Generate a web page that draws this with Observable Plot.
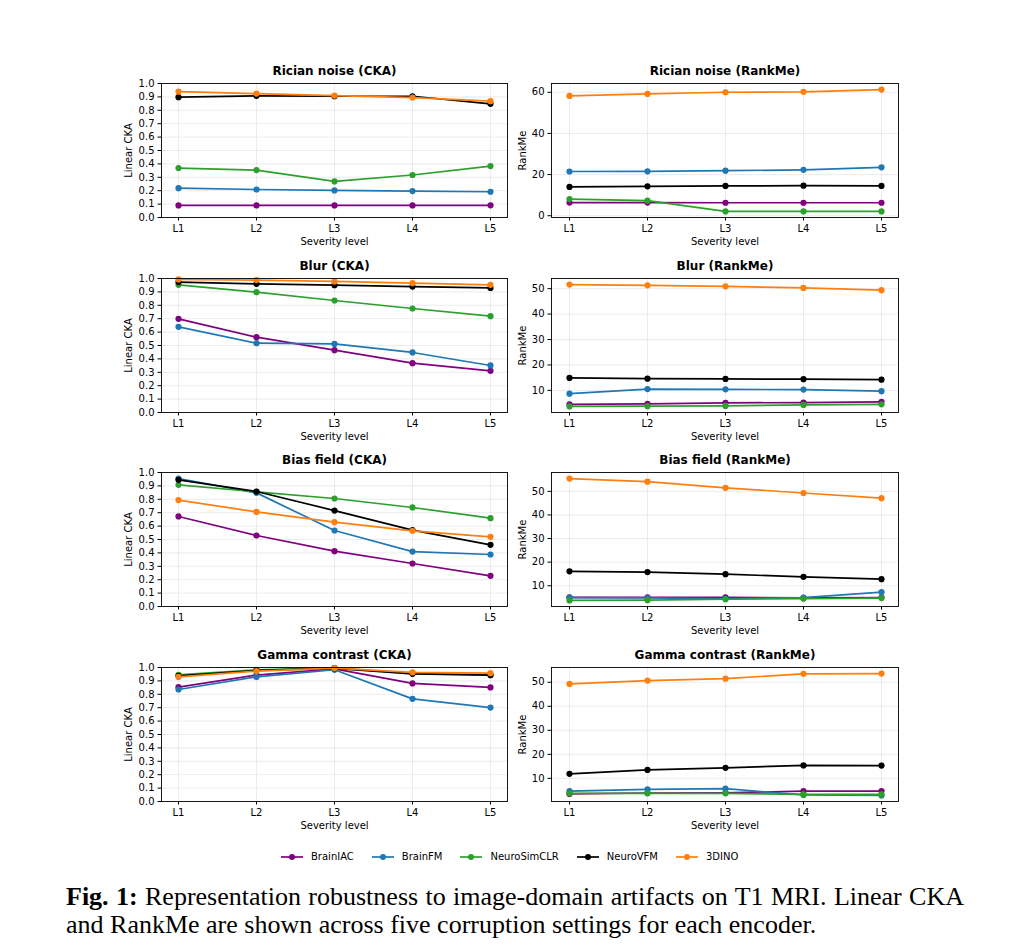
<!DOCTYPE html>
<html><head><meta charset="utf-8">
<script src="https://cdn.jsdelivr.net/npm/d3@7"></script>
<script src="https://cdn.jsdelivr.net/npm/@observablehq/plot@0.6"></script>
<style>
body{margin:0;background:#fff;}
#root{position:relative;width:1030px;height:951px;font-family:"DejaVu Sans",sans-serif;background:#fff;}
.panel{position:absolute;}
.panel svg{overflow:visible;background:transparent;max-width:none;font-family:"DejaVu Sans",sans-serif;}
#legend{position:absolute;left:281px;top:851px;display:flex;align-items:center;font-size:10px;color:#000;white-space:nowrap;}
#legend .item{display:flex;align-items:center;margin-right:18px;}
#legend svg{margin-right:8px;display:block;}
#caption{position:absolute;left:66px;top:883px;width:898px;font-family:"Liberation Serif",serif;font-size:26px;line-height:28px;color:#000;}
#caption .l1{text-align:justify;text-align-last:justify;white-space:nowrap;}
</style></head>
<body><div id="root"><div id="legend"></div><div id="caption"><div class="l1"><b>Fig. 1:</b> Representation robustness to image-domain artifacts on T1 MRI. Linear CKA</div><div>and RankMe are shown across five corruption settings for each encoder.</div></div></div>
<script>
const levels = ["L1", "L2", "L3", "L4", "L5"];
const encoders = ["BrainIAC", "BrainFM", "NeuroSimCLR", "NeuroVFM", "3DINO"];
const colors = ["#800080", "#1f77b4", "#2ca02c", "#000000", "#ff7f0e"];
const ckaTicks = [0.0, 0.1, 0.2, 0.3, 0.4, 0.5, 0.6, 0.7, 0.8, 0.9, 1.0];
const rankTicksRician = [0, 20, 40, 60];
const rankTicks = [10, 20, 30, 40, 50];

// rows: encoders in order BrainIAC, BrainFM, NeuroSimCLR, NeuroVFM, 3DINO
const ricianCKA = [
  [0.090, 0.090, 0.090, 0.090, 0.091],
  [0.219, 0.209, 0.202, 0.197, 0.192],
  [0.369, 0.354, 0.269, 0.317, 0.384],
  [0.898, 0.908, 0.905, 0.905, 0.848],
  [0.940, 0.925, 0.910, 0.895, 0.868]
];
const ricianRank = [
  [6.4, 6.4, 6.3, 6.3, 6.3],
  [21.5, 21.6, 21.9, 22.3, 23.5],
  [8.1, 7.3, 2.1, 2.1, 2.1],
  [14.0, 14.3, 14.5, 14.6, 14.5],
  [58.2, 59.2, 60.0, 60.2, 61.3]
];
const blurCKA = [
  [0.699, 0.562, 0.465, 0.368, 0.311],
  [0.639, 0.517, 0.512, 0.448, 0.351],
  [0.953, 0.898, 0.836, 0.776, 0.719],
  [0.973, 0.960, 0.950, 0.940, 0.930],
  [0.993, 0.988, 0.978, 0.965, 0.953]
];
const blurRank = [
  [4.5, 4.7, 5.1, 5.2, 5.5],
  [8.7, 10.5, 10.4, 10.3, 9.7],
  [3.7, 3.8, 3.9, 4.3, 4.5],
  [14.9, 14.6, 14.5, 14.4, 14.2],
  [51.6, 51.3, 50.9, 50.3, 49.4]
];
const biasCKA = [
  [0.672, 0.530, 0.413, 0.321, 0.229],
  [0.955, 0.848, 0.567, 0.410, 0.388],
  [0.908, 0.856, 0.806, 0.739, 0.659],
  [0.945, 0.858, 0.716, 0.570, 0.460],
  [0.794, 0.706, 0.629, 0.565, 0.520]
];
const biasRank = [
  [5.1, 5.1, 5.1, 4.9, 5.0],
  [5.0, 4.9, 4.5, 5.0, 7.3],
  [3.8, 3.9, 4.3, 4.5, 4.8],
  [16.1, 15.8, 14.9, 13.8, 12.8],
  [55.4, 54.1, 51.5, 49.3, 47.1]
];
const gammaCKA = [
  [0.853, 0.943, 0.990, 0.881, 0.851],
  [0.836, 0.930, 0.983, 0.766, 0.701],
  [0.945, 0.983, 0.998, 0.955, 0.945],
  [0.938, 0.978, 0.993, 0.953, 0.943],
  [0.930, 0.973, 0.995, 0.963, 0.958]
];
const gammaRank = [
  [3.5, 3.9, 4.0, 4.7, 4.7],
  [4.7, 5.4, 5.7, 3.1, 2.9],
  [3.75, 3.75, 3.75, 3.3, 3.3],
  [11.9, 13.5, 14.4, 15.4, 15.3],
  [49.3, 50.7, 51.5, 53.5, 53.6]
];

const corruptions = ["Rician noise", "Blur", "Bias field", "Gamma contrast"];
const ckaSets = [ricianCKA, blurCKA, biasCKA, gammaCKA];
const rankSets = [ricianRank, blurRank, biasRank, gammaRank];
const rankTickSets = [rankTicksRician, rankTicks, rankTicks, rankTicks];

const root = document.getElementById("root");
const gridStyle = {stroke: "#b0b0b0", strokeOpacity: 0.3, strokeWidth: 0.8};

function panel({title, values, yLabel, yLabelDx, yDomain, yTicks, yFormat, left, top, width, marginLeft, marginRight}) {
  const marginTop = 30, frameH = 134, marginBottom = 45;
  const rows = [];
  values.forEach((vals, s) => vals.forEach((v, i) => rows.push({s, level: levels[i], v})));
  const marks = [
    Plot.gridX(levels, gridStyle),
    Plot.gridY(yTicks, gridStyle),
    Plot.axisY(yTicks, {tickSize: 3.5, tickPadding: 3.5, tickFormat: yFormat, fontSize: 10, label: null}),
    Plot.axisX(levels, {tickSize: 3.5, tickPadding: 4, fontSize: 10, label: null}),
    Plot.text([yLabel], {text: d => d, frameAnchor: "left", dx: yLabelDx, rotate: -90, fontSize: 10, textAnchor: "middle", lineAnchor: "middle"}),
    Plot.text(["Severity level"], {text: d => d, frameAnchor: "bottom", dy: 24.5, fontSize: 10, textAnchor: "middle", lineAnchor: "middle"}),
    Plot.text([title], {text: d => d, frameAnchor: "top", dy: -12, fontSize: 12, fontWeight: "bold", textAnchor: "middle", lineAnchor: "middle"})
  ];
  encoders.forEach((e, s) => {
    const d = rows.filter(r => r.s === s);
    marks.push(Plot.line(d, {x: "level", y: "v", stroke: colors[s], strokeWidth: 1.7}));
    marks.push(Plot.dot(d, {x: "level", y: "v", fill: colors[s], r: 3.1}));
  });
  marks.push(Plot.frame({stroke: "#000", strokeWidth: 0.9}));
  const svg = Plot.plot({
    width, height: marginTop + frameH + marginBottom,
    marginTop, marginBottom, marginLeft, marginRight,
    style: {background: "transparent", overflow: "visible", fontFamily: "DejaVu Sans"},
    x: {type: "point", domain: levels, padding: 0.2, axis: null},
    y: {domain: yDomain, axis: null},
    marks
  });
  const div = document.createElement("div");
  div.className = "panel";
  div.style.left = left + "px";
  div.style.top = (top - marginTop) + "px";
  div.appendChild(svg);
  root.appendChild(div);
}

const rowTops = [83, 277.7, 472, 667];
corruptions.forEach((c, i) => {
  panel({
    title: `${c} (CKA)`, values: ckaSets[i], yLabel: "Linear CKA", yLabelDx: -33,
    yDomain: [0, 1], yTicks: ckaTicks, yFormat: d3.format(".1f"),
    left: 100, top: rowTops[i], width: 420, marginLeft: 61, marginRight: 13
  });
  const all = rankSets[i].flat();
  const lo = d3.min(all), hi = d3.max(all), pad = (hi - lo) * 0.05;
  panel({
    title: `${c} (RankMe)`, values: rankSets[i], yLabel: "RankMe", yLabelDx: -29,
    yDomain: [lo - pad, hi + pad], yTicks: rankTickSets[i], yFormat: d3.format("d"),
    left: 505, top: rowTops[i], width: 405, marginLeft: 46, marginRight: 12
  });
});

const legend = document.getElementById("legend");
encoders.forEach((e, s) => {
  const item = document.createElement("div");
  item.className = "item";
  item.innerHTML = `<svg width="22" height="10"><line x1="0" x2="22" y1="5" y2="5" stroke="${colors[s]}" stroke-width="1.7"/><circle cx="11" cy="5" r="3" fill="${colors[s]}"/></svg><span>${e}</span>`;
  legend.appendChild(item);
});
</script>
</body></html>
